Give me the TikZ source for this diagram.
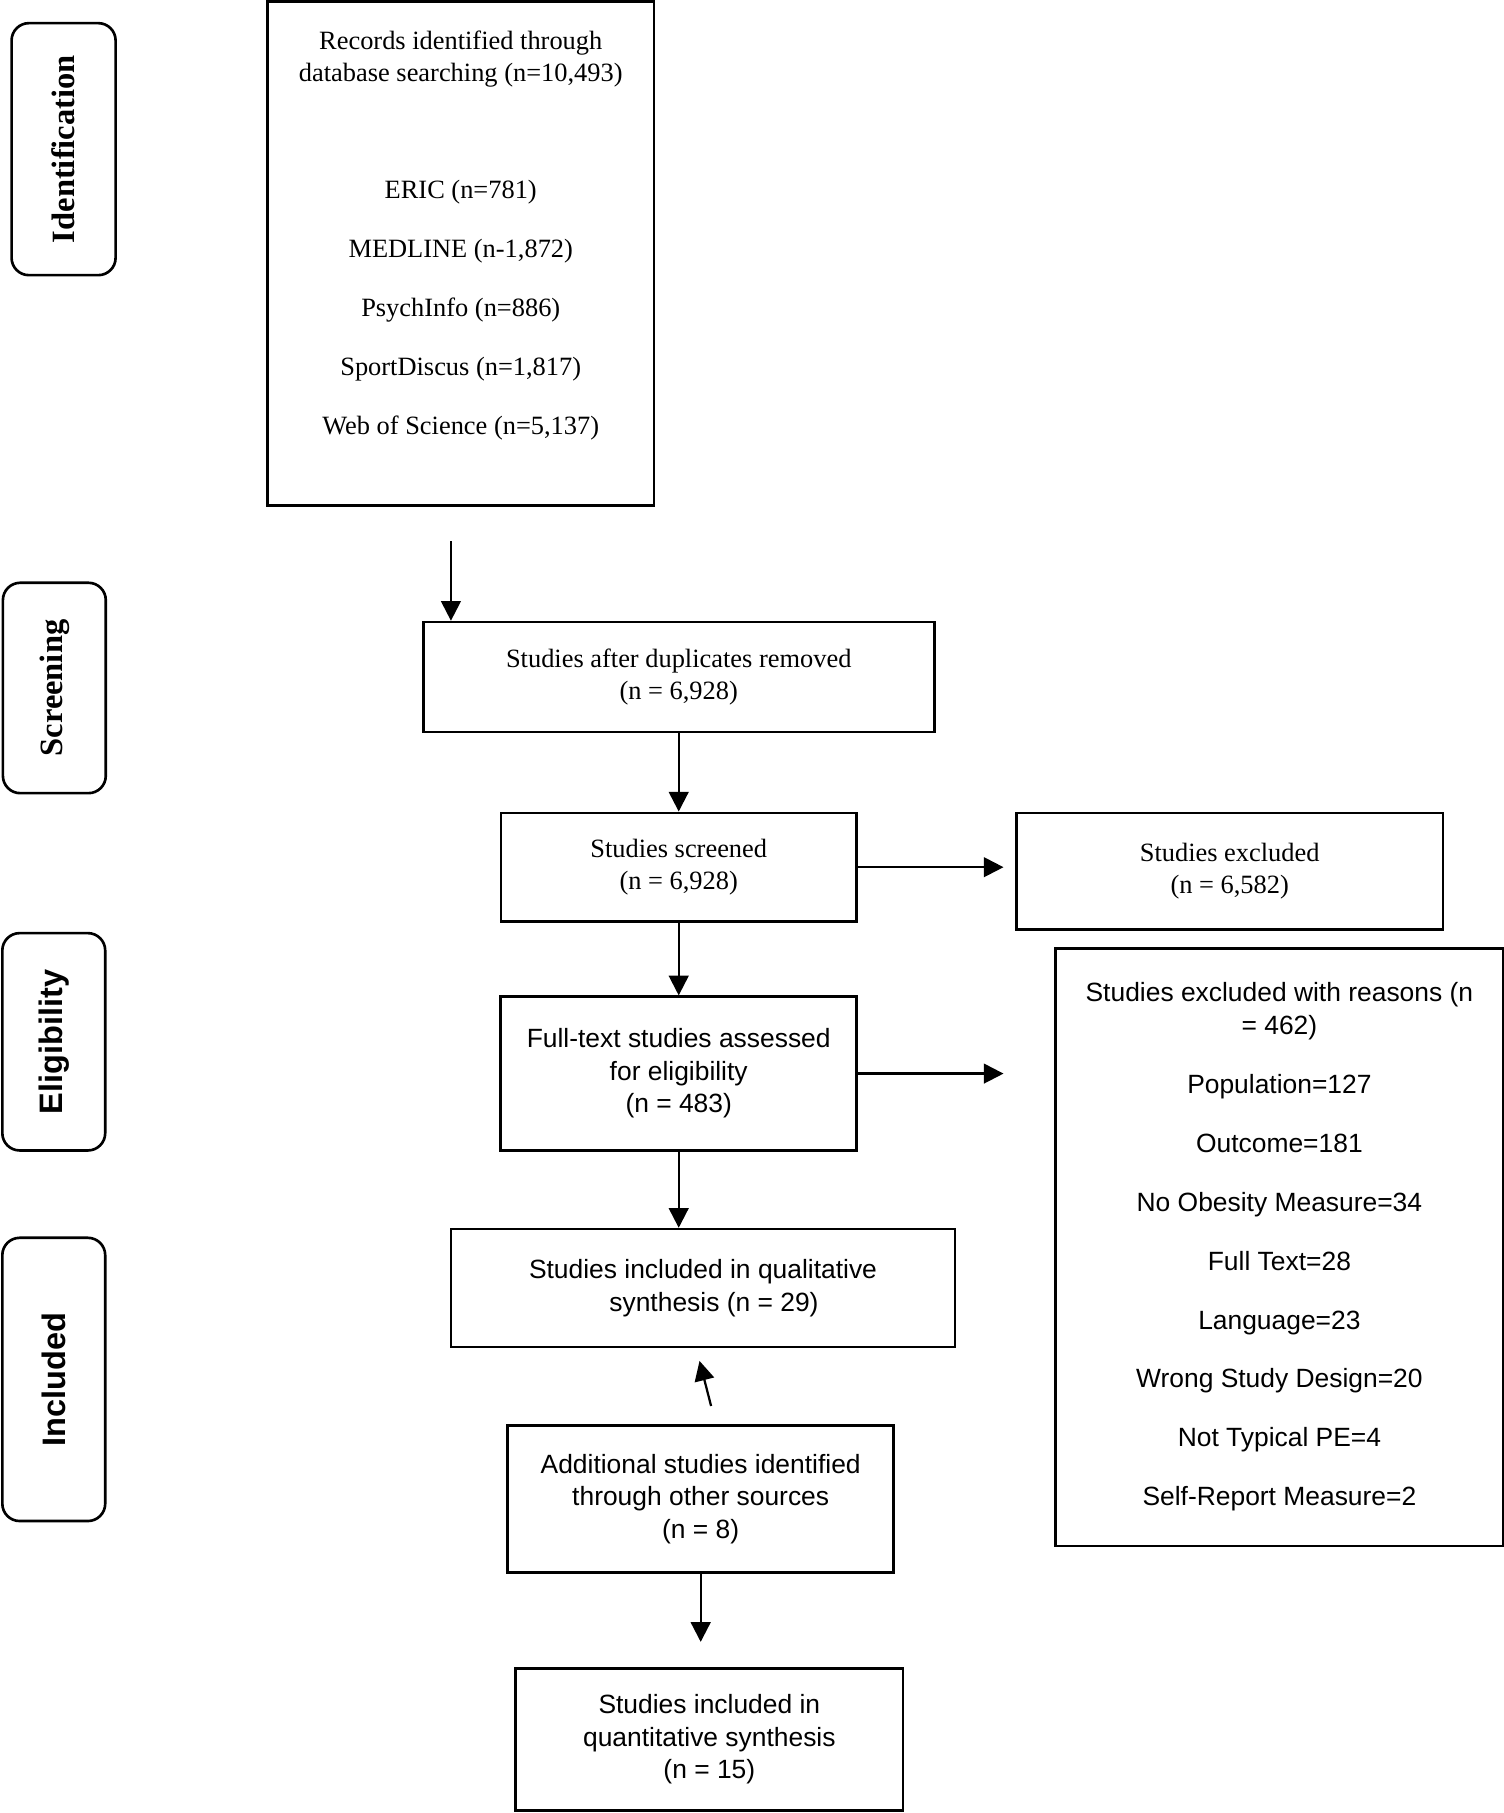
\documentclass[tikz,border=0pt]{standalone}
\usepackage{fontspec}
\setmainfont{Liberation Serif}
\setsansfont{Liberation Sans}
\usetikzlibrary{arrows.meta}

\begin{document}
\begin{tikzpicture}[style=thick, x=0.02cm, y=-0.02cm]
%\draw[help lines] (0,0) grid[step=100] (1300,1568);
\tikzstyle{box}=[draw, line width=1.3pt, align=center, inner sep=0pt]
\tikzstyle{serif}=[font=\fontsize{13}{16}\selectfont]
\tikzstyle{sans}=[font=\sffamily\fontsize{13}{16}\selectfont]
\tikzstyle{phase}=[draw, line width=1.3pt, rounded corners=0.3cm, rotate=90, inner sep=0pt]
\tikzstyle{arr}=[draw, line width=1.1pt, -{Triangle[length=0.34cm,width=0.34cm]}]

\useasboundingbox (0,0) rectangle (1300,1568);

% phases
\draw (55,129) node[phase, font=\bfseries\fontsize{16}{19}\selectfont, minimum width=4.36cm, minimum height=1.8cm] (ident) {Identification};
\draw (47,595) node[phase, font=\bfseries\fontsize{16}{19}\selectfont, minimum width=3.64cm, minimum height=1.78cm] (scrn) {Screening};
\draw (46.5,901) node[phase, font=\sffamily\bfseries\fontsize{16}{19}\selectfont, minimum width=3.76cm, minimum height=1.78cm] (elig) {Eligibility};
\draw (46.5,1193) node[phase, font=\sffamily\bfseries\fontsize{16}{19}\selectfont, minimum width=4.9cm, minimum height=1.78cm] (incl) {Included};

% boxes
\draw (398.5,219) node[box, minimum width=6.68cm, minimum height=8.72cm] (rec) {};
\draw (398.5,203.5) node[serif, align=center] (rectext) {Records identified through\\database searching (n=10,493)\\[41.5pt]ERIC (n=781)\\[13pt]MEDLINE (n-1,872)\\[13pt]PsychInfo (n=886)\\[13pt]SportDiscus (n=1,817)\\[13pt]Web of Science (n=5,137)};
\draw (587,585.5) node[box, serif, minimum width=8.84cm, minimum height=1.9cm] (dup) {Studies after duplicates removed\\(n = 6,928)};
\draw (587,750) node[box, serif, minimum width=6.15cm, minimum height=1.88cm] (scr) {Studies screened\\(n = 6,928)};
\draw (1063.5,753.5) node[box, serif, minimum width=7.38cm, minimum height=2.02cm] (exc) {Studies excluded\\(n = 6,582)};
\draw (587,928.5) node[box, sans, minimum width=6.16cm, minimum height=2.66cm] (full) {Full-text studies assessed\\for eligibility\\(n = 483)};
\draw (1106.5,1078.5) node[box, sans, minimum width=7.74cm, minimum height=10.34cm] (rsn) {Studies excluded with reasons (n\\= 462)\\[13pt]Population=127\\[13pt]Outcome=181\\[13pt]No Obesity Measure=34\\[13pt]Full Text=28\\[13pt]Language=23\\[13pt]Wrong Study Design=20\\[13pt]Not Typical PE=4\\[13pt]Self-Report Measure=2};
\draw (608,1114) node[box, sans, minimum width=8.72cm, minimum height=2.04cm] (qual) {Studies included in qualitative\\\hspace*{0.38cm}synthesis (n = 29)};
\draw (606,1296.5) node[box, sans, minimum width=6.68cm, minimum height=2.54cm] (add) {Additional studies identified\\through other sources\\(n = 8)};
\draw (613.5,1504.5) node[box, sans, minimum width=6.7cm, minimum height=2.46cm] (quant) {Studies included in\\quantitative synthesis\\(n = 15)};

% arrows
\coordinate (a1) at (390,468);
\coordinate (a2s) at (615,1216);
\coordinate (a2e) at (605,1177);
\coordinate (a3e) at (606,1420);
\draw[arr] (a1) -- (a1 |- dup.north);
\draw[arr] (dup.south) -- (scr.north);
\draw[arr, shorten >=0.2cm] (scr.east) -- (scr.east -| exc.west);
\draw[arr] (scr.south) -- (full.north);
\draw[arr, shorten >=0.88cm] (full.east) -- (full.east -| rsn.west);
\draw[arr] (full.south) -- (qual.north -| full.south);
\draw[arr] (a2s) -- (a2e);
\draw[arr] (add.south -| a3e) -- (a3e);
\end{tikzpicture}
\end{document}
